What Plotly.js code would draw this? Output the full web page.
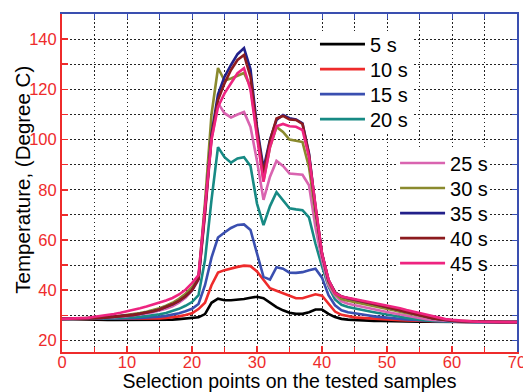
<!DOCTYPE html>
<html>
<head>
<meta charset="utf-8">
<script src="https://cdn.plot.ly/plotly-3.0.1.min.js"></script>
<style>html,body{margin:0;padding:0;background:#fff;}#chart{width:523px;height:392px;}</style>
</head>
<body>
<div id="chart"></div>
<script>
const xPoints = Array.from({length: 71}, (_, i) => i);

const seriesNames = ["5 s", "10 s", "15 s", "20 s", "25 s", "30 s", "35 s", "40 s", "45 s"];
const seriesColors = ["#000000", "#ee2b2b", "#3a4fb0", "#178a84", "#d964b0", "#8a8a2e", "#22208a", "#8c1b1e", "#ee2480"];

const t5 = [28.6,28.5,28.5,28.4,28.4,28.3,28.3,28.2,28.2,28.2,28.1,
  28.1,28.1,28.1,28.1,28.1,28.2,28.3,28.5,28.7,28.9,
  29.2,30.5,35,36.6,36,36,36.2,36.5,37,37.4,
  36.8,35,33.3,32,31,30.6,30.6,31.2,32.3,32.3,
  30.6,29.3,28.6,28.3,28.1,28,27.9,27.8,27.8,27.7,
  27.7,27.6,27.6,27.6,27.5,27.5,27.5,27.4,27.4,27.4,
  27.4,27.4,27.3,27.3,27.3,27.3,27.3,27.3,27.3,27.3];

const t10 = [28.6,28.6,28.5,28.5,28.5,28.5,28.5,28.5,28.5,28.5,28.5,
  28.5,28.6,28.6,28.7,28.8,29,29.2,29.6,30.1,30.8,
  32.5,35,42,47,48,48.8,49.3,49.8,49.6,47.5,
  44,40.8,39.8,38.8,37.5,36.8,36.8,37.5,38.4,37.8,
  34.5,31.5,30.2,29.6,29.2,29,28.8,28.6,28.5,28.3,
  28.2,28.1,28,27.9,27.8,27.7,27.6,27.6,27.5,27.5,
  27.4,27.4,27.4,27.3,27.3,27.3,27.3,27.3,27.3,27.3];

const t15 = [28.6,28.6,28.6,28.6,28.6,28.6,28.6,28.6,28.6,28.7,28.8,
  28.9,29,29.1,29.3,29.5,29.8,30.2,30.8,31.6,32.6,
  34.5,42,53,61,63,64.8,66,66.2,64,55,
  45.3,44.2,49.2,48.6,47,46.9,47.2,48,48.6,45,
  38,34,32,31.2,30.7,30.3,30,29.6,29.3,29,
  28.8,28.6,28.4,28.2,28,27.9,27.8,27.7,27.6,27.5,
  27.4,27.4,27.4,27.3,27.3,27.3,27.3,27.3,27.3,27.3];

const t20 = [28.6,28.6,28.6,28.6,28.6,28.7,28.7,28.8,28.9,29,29.1,
  29.3,29.5,29.7,30,30.4,30.9,31.6,32.6,33.8,35.3,
  38,52,76,97,93,90.8,92.5,93,89.5,74.5,
  65.9,73.5,79,76,72.6,72.2,71.9,69,58.5,49.5,
  41.5,36.3,34.2,33.3,32.7,32.2,31.7,31.2,30.7,30.2,
  29.8,29.4,29,28.6,28.3,28,27.8,27.7,27.6,27.5,
  27.4,27.4,27.4,27.3,27.3,27.3,27.3,27.3,27.3,27.3];

const t25 = [28.6,28.6,28.7,28.7,28.8,28.9,29,29.1,29.3,29.5,29.7,
  30,30.3,30.7,31.2,31.8,32.6,33.6,35,37,39.8,
  44,70,100,114.5,110.5,108.8,110,111,105,91.5,
  76,85.2,91.5,89.5,86.5,86.3,86,81.8,65,52,
  42,37.8,35.6,34.6,34,33.4,32.8,32.3,31.8,31.3,
  30.8,30.3,29.8,29.3,28.8,28.5,28.2,28,27.8,27.7,
  27.6,27.5,27.5,27.4,27.4,27.3,27.3,27.3,27.3,27.3];

const t30 = [28.6,28.6,28.7,28.8,28.9,29,29.1,29.3,29.5,29.8,30.1,
  30.5,30.9,31.4,32,32.8,33.8,35,36.6,38.6,41.2,
  45,75,110,128.5,123.5,124.3,125.3,126.5,121,102.5,
  83.8,97,105,103,100,99.5,99,89,70.5,54.6,
  43.3,38.5,36.5,35.8,35.3,34.8,34.2,33.7,33.1,32.6,
  32,31.4,30.8,30.3,29.8,29.3,28.8,28.5,28.2,28,
  27.8,27.7,27.6,27.5,27.4,27.4,27.3,27.3,27.3,27.3];

const t35 = [28.6,28.6,28.6,28.7,28.8,28.9,29,29.2,29.4,29.6,29.9,
  30.2,30.6,31,31.6,32.3,33.2,34.4,35.8,37.6,40,
  44.5,72,102,118,125,129.7,134,136.4,128,105,
  88.5,100,107.8,109.8,108.5,108,106.5,94.5,73,54.6,
  44,39.2,37.5,36.8,36.3,35.7,35.1,34.5,33.9,33.3,
  32.7,32,31.3,30.6,30,29.4,28.9,28.5,28.1,27.9,
  27.7,27.6,27.5,27.4,27.4,27.3,27.3,27.3,27.3,27.3];

const t40 = [28.6,28.6,28.6,28.7,28.8,28.9,29,29.2,29.4,29.6,29.9,
  30.2,30.6,31,31.6,32.3,33.2,34.4,35.8,37.6,40,
  44.5,71,101,115.7,122.4,127.7,131.7,133.7,125,103.8,
  86.5,99.5,108.4,109.4,108,107.8,106.2,94,73,54.6,
  44,39.2,37.5,36.8,36.3,35.7,35.1,34.5,33.9,33.3,
  32.7,32,31.3,30.6,30,29.4,28.9,28.5,28.1,27.9,
  27.7,27.6,27.5,27.4,27.4,27.3,27.3,27.3,27.3,27.3];

const t45 = [28.6,28.7,28.8,28.9,29,29.4,29.7,30.1,30.5,31,31.5,
  32.2,32.8,33.5,34.2,35,35.9,36.9,38.3,40.2,42.8,
  46,72,100,113,118.4,122.4,126.4,128.4,119.8,101.1,
  83.2,97,105.3,106.2,105.3,105.1,103.8,93,73,54.6,
  44.2,38.8,37.5,37,36.6,36.1,35.6,35.1,34.6,34,
  33.4,32.8,32.1,31.5,30.9,30.2,29.6,29,28.5,28.2,
  27.9,27.7,27.6,27.5,27.4,27.4,27.3,27.3,27.3,27.3];

const seriesValues = [t5, t10, t15, t20, t25, t30, t35, t40, t45];

const xTickVals = [0, 10, 20, 30, 40, 50, 60, 70];
const yTickVals = [20, 40, 60, 80, 100, 120, 140];

const fontFam = "Liberation Sans, Arial, sans-serif";
const GRID_DASH = "1.5px,2.5px";

// legend placement (paper coords): first four in one column, last five in another
const legendX = [0.556, 0.556, 0.556, 0.556, 0.732, 0.732, 0.732, 0.732, 0.732];
const legendY = [0.911, 0.837, 0.763, 0.689, 0.559, 0.485, 0.411, 0.337, 0.263];

const legendIds = seriesNames.map((_, i) => i === 0 ? "legend" : "legend" + (i + 1));

const traces = seriesNames.map((name, i) => ({
  type: "scatter",
  mode: "lines",
  x: xPoints,
  y: seriesValues[i],
  name: name,
  legend: legendIds[i],
  line: {color: seriesColors[i], width: 2.6},
  xaxis: "x",
  yaxis: "y"
}));

traces.push({type: "scatter", mode: "lines", x: [], y: [], xaxis: "x2", yaxis: "y2", showlegend: false, hoverinfo: "skip"});

const layout = {
  width: 523,
  height: 392,
  margin: {l: 62, r: 6, t: 14, b: 40},
  paper_bgcolor: "#ffffff",
  plot_bgcolor: "#ffffff",
  font: {family: fontFam, color: "#000"},
  showlegend: true,
  xaxis: {
    range: [0, 70],
    tickvals: xTickVals,
    ticks: "inside",
    ticklen: 6,
    tickcolor: "#ee2b2b",
    tickwidth: 1.5,
    tickfont: {size: 16.5, color: "#ee2b2b", family: fontFam},
    ticklabelstandoff: -6,
    ticklabeloverflow: "allow",
    showline: true,
    linecolor: "#ee2b2b",
    linewidth: 2,
    zeroline: false,
    showgrid: true, gridcolor: "#222", griddash: GRID_DASH, gridwidth: 1,
    minor: {dtick: 5, tick0: 0, ticks: "inside", ticklen: 5, tickcolor: "#ee2b2b", showgrid: true, gridcolor: "#222", griddash: GRID_DASH, gridwidth: 1},
    title: {text: "Selection points on the tested samples", font: {size: 19.5, color: "#000", family: fontFam}, standoff: 9}
  },
  yaxis: {
    range: [15.4, 150],
    tickvals: yTickVals,
    ticks: "inside",
    ticklen: 6,
    tickcolor: "#ee2b2b",
    tickwidth: 1.5,
    tickfont: {size: 16.5, color: "#ee2b2b", family: fontFam},
    showline: true,
    linecolor: "#ee2b2b",
    linewidth: 2,
    zeroline: false,
    showgrid: true, gridcolor: "#222", griddash: GRID_DASH, gridwidth: 1,
    minor: {dtick: 10, tick0: 0, ticks: "inside", ticklen: 6, tickcolor: "#ee2b2b", showgrid: true, gridcolor: "#222", griddash: GRID_DASH, gridwidth: 1}
  },
  xaxis2: {
    overlaying: "x",
    side: "top",
    range: [0, 70],
    dtick: 5,
    ticks: "inside",
    ticklen: 5,
    tickcolor: "#3a4fb0",
    showticklabels: false,
    showline: true,
    linecolor: "#3a4fb0",
    linewidth: 2,
    showgrid: false,
    zeroline: false
  },
  yaxis2: {
    overlaying: "y",
    side: "right",
    range: [15.4, 150],
    dtick: 10,
    tick0: 0,
    ticks: "inside",
    ticklen: 5,
    tickcolor: "#3a4fb0",
    showticklabels: false,
    showline: true,
    linecolor: "#3a4fb0",
    linewidth: 2,
    showgrid: false,
    zeroline: false
  },
  // white panels behind the two legend blocks (hide the grid there)
  shapes: [
    {type: "rect", xref: "x", yref: "y", x0: 39.4, x1: 54, y0: 102.6, y1: 142.8,
     fillcolor: "#ffffff", line: {width: 0}, layer: "between"},
    {type: "rect", xref: "x", yref: "y", x0: 51.7, x1: 65.8, y0: 47.2, y1: 95.8,
     fillcolor: "#ffffff", line: {width: 0}, layer: "between"}
  ],
  annotations: [{
    text: "Temperature, (Degree C)",
    xref: "paper", yref: "paper",
    x: -0.0857, y: 0.51,
    xanchor: "center", yanchor: "middle",
    textangle: -90,
    showarrow: false,
    font: {size: 20.5, color: "#000", family: fontFam}
  }]
};

legendIds.forEach((id, i) => {
  layout[id] = {
    x: legendX[i], y: legendY[i], xanchor: "left", yanchor: "middle",
    bgcolor: "rgba(255,255,255,0)", borderwidth: 0,
    font: {size: 20, color: "#000", family: fontFam},
    itemwidth: 45
  };
});

Plotly.newPlot("chart", traces, layout, {displayModeBar: false, staticPlot: true});
</script>
</body>
</html>
